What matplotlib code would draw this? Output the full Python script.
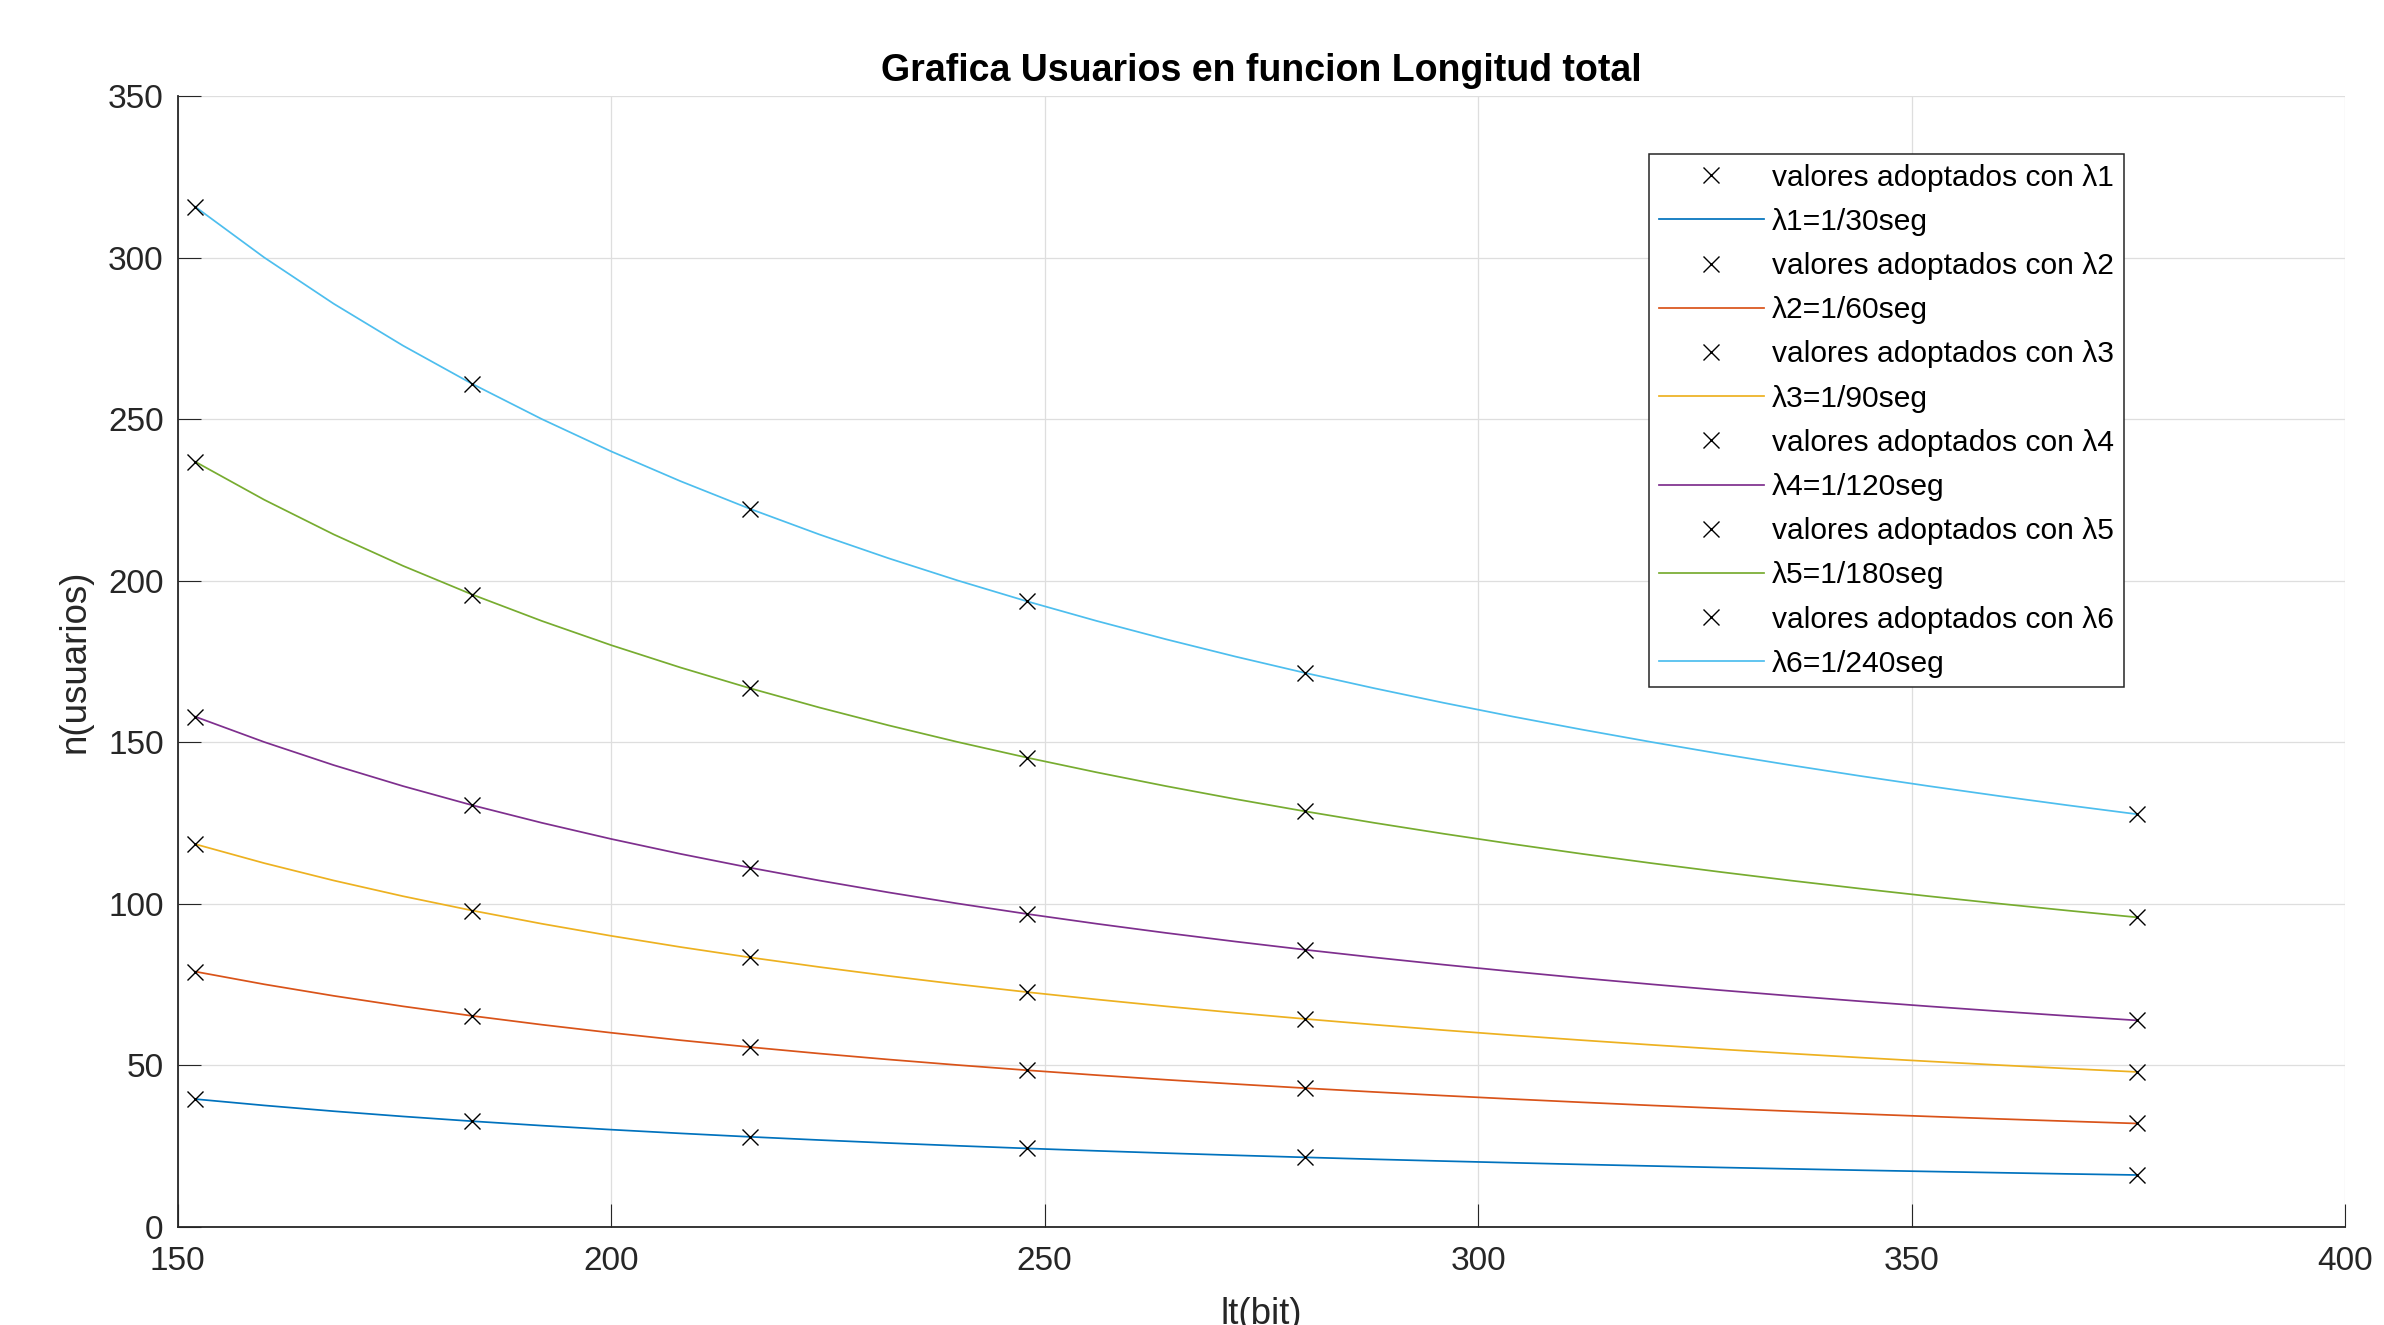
import matplotlib
matplotlib.use("Agg")
import matplotlib.pyplot as plt

plt.rcParams['font.family'] = ['Liberation Sans', 'DejaVu Sans']

# ---- data ----
lt_curve = [152, 160, 168, 176, 184, 192, 200, 208, 216, 224, 232, 240, 248, 256,
            264, 272, 280, 288, 296, 304, 312, 320, 328, 336, 344, 352, 360, 368, 376]

n_l1 = [39.47, 37.50, 35.71, 34.09, 32.61, 31.25, 30.00, 28.85, 27.78, 26.79, 25.86,
        25.00, 24.19, 23.44, 22.73, 22.06, 21.43, 20.83, 20.27, 19.74, 19.23, 18.75,
        18.29, 17.86, 17.44, 17.05, 16.67, 16.30, 15.96]
n_l2 = [78.95, 75.00, 71.43, 68.18, 65.22, 62.50, 60.00, 57.69, 55.56, 53.57, 51.72,
        50.00, 48.39, 46.88, 45.45, 44.12, 42.86, 41.67, 40.54, 39.47, 38.46, 37.50,
        36.59, 35.71, 34.88, 34.09, 33.33, 32.61, 31.91]
n_l3 = [118.42, 112.50, 107.14, 102.27, 97.83, 93.75, 90.00, 86.54, 83.33, 80.36, 77.59,
        75.00, 72.58, 70.31, 68.18, 66.18, 64.29, 62.50, 60.81, 59.21, 57.69, 56.25,
        54.88, 53.57, 52.33, 51.14, 50.00, 48.91, 47.87]
n_l4 = [157.89, 150.00, 142.86, 136.36, 130.43, 125.00, 120.00, 115.38, 111.11, 107.14,
        103.45, 100.00, 96.77, 93.75, 90.91, 88.24, 85.71, 83.33, 81.08, 78.95, 76.92,
        75.00, 73.17, 71.43, 69.77, 68.18, 66.67, 65.22, 63.83]
n_l5 = [236.84, 225.00, 214.29, 204.55, 195.65, 187.50, 180.00, 173.08, 166.67, 160.71,
        155.17, 150.00, 145.16, 140.63, 136.36, 132.35, 128.57, 125.00, 121.62, 118.42,
        115.38, 112.50, 109.76, 107.14, 104.65, 102.27, 100.00, 97.83, 95.74]
n_l6 = [315.79, 300.00, 285.71, 272.73, 260.87, 250.00, 240.00, 230.77, 222.22, 214.29,
        206.90, 200.00, 193.55, 187.50, 181.82, 176.47, 171.43, 166.67, 162.16, 157.89,
        153.85, 150.00, 146.34, 142.86, 139.53, 136.36, 133.33, 130.43, 127.66]

lt_points = [152, 184, 216, 248, 280, 376]
p_l1 = [39.47, 32.61, 27.78, 24.19, 21.43, 15.96]
p_l2 = [78.95, 65.22, 55.56, 48.39, 42.86, 31.91]
p_l3 = [118.42, 97.83, 83.33, 72.58, 64.29, 47.87]
p_l4 = [157.89, 130.43, 111.11, 96.77, 85.71, 63.83]
p_l5 = [236.84, 195.65, 166.67, 145.16, 128.57, 95.74]
p_l6 = [315.79, 260.87, 222.22, 193.55, 171.43, 127.66]

line_labels = ['λ1=1/30seg', 'λ2=1/60seg', 'λ3=1/90seg',
               'λ4=1/120seg', 'λ5=1/180seg', 'λ6=1/240seg']
point_labels = ['valores adoptados con λ1', 'valores adoptados con λ2',
                'valores adoptados con λ3', 'valores adoptados con λ4',
                'valores adoptados con λ5', 'valores adoptados con λ6']
colors = ['#0072BD', '#D95319', '#EDB120', '#7E2F8E', '#77AC30', '#4DBEEE']

title = 'Grafica Usuarios en funcion Longitud total'
xlabel = 'lt(bit)'
ylabel = 'n(usuarios)'
xticks = [150, 200, 250, 300, 350, 400]
yticks = [0, 50, 100, 150, 200, 250, 300, 350]

# ---- figure ----
fig = plt.figure(figsize=(23.84, 13.25), dpi=100)
ax = fig.add_axes([0.0745, 0.0743, 0.9092, 0.8532])

curves = [n_l1, n_l2, n_l3, n_l4, n_l5, n_l6]
points = [p_l1, p_l2, p_l3, p_l4, p_l5, p_l6]
for i in range(6):
    ax.plot(lt_points, points[i], linestyle='none', marker='x', color='black',
            markersize=11, markeredgewidth=1.0, label=point_labels[i], zorder=3)
    ax.plot(lt_curve, curves[i], color=colors[i], linewidth=1.25,
            label=line_labels[i], zorder=2)

ax.set_xlim(150, 400)
ax.set_ylim(0, 350)
ax.set_xticks(xticks)
ax.set_yticks(yticks)

axis_col = '#262626'
for s in ['top', 'right']:
    ax.spines[s].set_visible(False)
for s in ['left', 'bottom']:
    ax.spines[s].set_color(axis_col)
    ax.spines[s].set_linewidth(1.3)

ax.grid(True, color='#DEDEDE', linewidth=0.9)
ax.set_axisbelow(True)
ax.tick_params(axis='both', direction='in', length=16.5, width=0.8,
               colors=axis_col, labelsize=24, labelcolor=axis_col)
ax.tick_params(axis='x', pad=14)
ax.tick_params(axis='y', pad=10)

ax.set_title(title, fontsize=27, fontweight='bold', pad=11, color='black')
ax.set_xlabel(xlabel, fontsize=26.4, color=axis_col)
ax.set_ylabel(ylabel, fontsize=26.4, color=axis_col)
ax.xaxis.set_label_coords(0.5, -0.062)
ax.yaxis.set_label_coords(-0.039, 0.5)

leg = ax.legend(loc='upper left', bbox_to_anchor=(0.679, 0.9487), borderaxespad=0,
                fontsize=21.6, handlelength=3.5, handletextpad=0.27,
                borderpad=0.32, labelspacing=0.54, numpoints=1,
                fancybox=False, framealpha=1, edgecolor=axis_col)
leg.get_frame().set_linewidth(1.1)

fig.savefig('out.png', dpi=100)
